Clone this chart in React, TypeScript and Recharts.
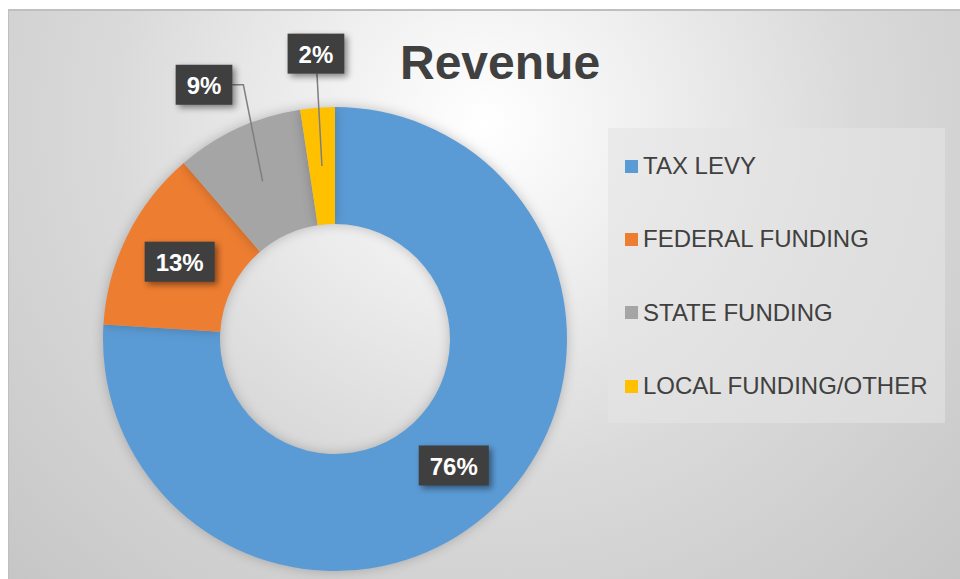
import { PieChart, Pie, Cell, Legend } from 'recharts'

const categories = ['TAX LEVY', 'FEDERAL FUNDING', 'STATE FUNDING', 'LOCAL FUNDING/OTHER']
const shares = [76.0, 12.7, 8.9, 2.4]
const colors = ['#5b9bd5', '#ed7d31', '#a5a5a5', '#ffc000']

const revenueData = categories.map((name, i) => ({ name, value: shares[i] }))

const FONT = '"Liberation Sans", Arial, Helvetica, sans-serif'
const TEXT_COLOR = '#404040'
const RAD = Math.PI / 180
// small angle tweak for outside labels so they don't collide
const LABEL_NUDGE = [0, 0, 2.6, -0.5]

function renderLabel(props: any) {
  const { cx, cy, midAngle, innerRadius, outerRadius, percent, index } = props
  const text = `${Math.round(percent * 100)}%`
  const w = (text.length - 1) * 13.35 + 21.35 + 22
  const h = 40
  const midR = (innerRadius + outerRadius) / 2
  const ax = cx + midR * Math.cos(-midAngle * RAD)
  const ay = cy + midR * Math.sin(-midAngle * RAD)

  let bx = ax
  let by = ay
  let leader: string | null = null
  if (percent < 0.1) {
    const a = midAngle + LABEL_NUDGE[index]
    const r = outerRadius + 54
    bx = cx + r * Math.cos(-a * RAD)
    by = cy + r * Math.sin(-a * RAD)
    if (ax > bx + w / 2) {
      leader = `${ax},${ay} ${bx + w / 2 + 11},${by} ${bx + w / 2},${by}`
    } else {
      leader = `${ax},${ay} ${bx + 1},${by + h / 2}`
    }
  }

  return (
    <g key={`lbl-${index}`}>
      {leader && <polyline points={leader} fill="none" stroke="#7f7f7f" strokeWidth={1.5} />}
      <rect
        x={bx - w / 2}
        y={by - h / 2}
        width={w}
        height={h}
        fill="#3f3f3f"
        style={{ filter: 'drop-shadow(3px 3px 3px rgba(0,0,0,0.45))' }}
      />
      <text
        x={bx}
        y={by + 1}
        textAnchor="middle"
        dominantBaseline="central"
        fill="#ffffff"
        fontFamily={FONT}
        fontWeight="bold"
        fontSize={24}
      >
        {text}
      </text>
    </g>
  )
}

function LegendBox() {
  return (
    <div
      style={{
        width: 337,
        height: 295,
        background: 'rgba(228,228,228,0.6)',
        position: 'relative',
      }}
    >
      {categories.map((name, i) => (
        <div
          key={name}
          style={{
            position: 'absolute',
            left: 17,
            top: 38 + i * 73.4 - 14,
            height: 28,
            display: 'flex',
            alignItems: 'center',
            fontFamily: FONT,
            fontSize: 24,
            color: TEXT_COLOR,
            whiteSpace: 'nowrap',
          }}
        >
          <span style={{ display: 'inline-block', width: 13, height: 13, background: colors[i], marginRight: 5 }} />
          <span>{name}</span>
        </div>
      ))}
    </div>
  )
}

export default function App() {
  return (
    <div
      style={{
        position: 'absolute',
        left: 8,
        top: 9,
        width: 952,
        height: 570,
        overflow: 'hidden',
        background:
          'radial-gradient(ellipse farthest-corner at 50% 20%, #ffffff 0%, #f1f1f1 22%, #dadada 55%, #c6c6c6 100%)',
        boxShadow: 'inset 1px 2px 0 #bfbfbf',
      }}
    >
      <div
        style={{
          position: 'absolute',
          left: 392,
          top: 26,
          width: 200,
          textAlign: 'center',
          fontFamily: FONT,
          fontWeight: 'bold',
          fontSize: 48,
          color: TEXT_COLOR,
          lineHeight: '56px',
        }}
      >
        Revenue
      </div>
      <PieChart width={952} height={570} style={{ position: 'absolute', left: 0, top: 0 }}>
        <Pie
          data={revenueData}
          dataKey="value"
          nameKey="name"
          cx={322}
          cy={325}
          innerRadius={115}
          outerRadius={232}
          startAngle={90}
          endAngle={-270}
          stroke="none"
          label={renderLabel}
          labelLine={false}
          isAnimationActive={false}
        >
          {revenueData.map((entry, i) => (
            <Cell
              key={entry.name}
              fill={colors[i]}
              style={{ filter: 'drop-shadow(0 0 6px rgba(0,0,0,0.22))' }}
            />
          ))}
        </Pie>
        <Legend
          content={() => <LegendBox />}
          wrapperStyle={{ position: 'absolute', left: 600, top: 119, width: 337, height: 295 }}
        />
      </PieChart>
    </div>
  )
}
